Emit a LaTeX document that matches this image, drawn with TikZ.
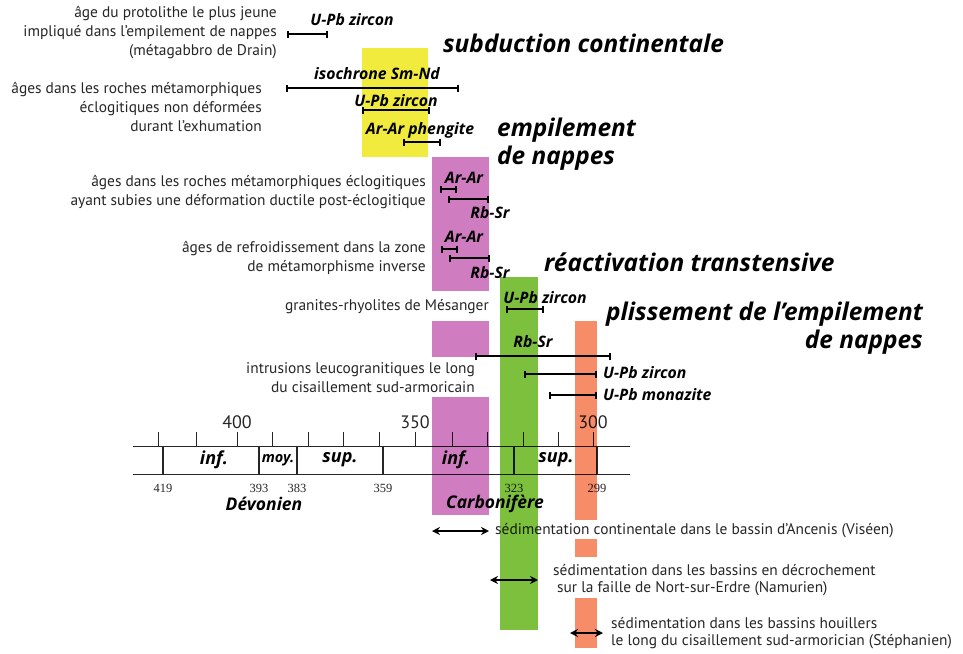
\documentclass[tikz,border=0pt]{standalone}
\usepackage{fontspec}
\setmainfont{PT Sans}
\newfontfamily\numfont{Liberation Serif}
\newfontfamily\osans{Open Sans}
\usetikzlibrary{arrows.meta}
\definecolor{cyel}{RGB}{240,235,60}
\definecolor{cpink}{RGB}{207,124,192}
\definecolor{cgreen}{RGB}{124,192,62}
\definecolor{corange}{RGB}{246,140,104}
\definecolor{ctext}{RGB}{38,38,38}
\newcommand{\errb}[4]{%
  \coordinate (#1a) at (#2,#4);
  \coordinate (#1b) at (#3,#4);
  \draw[errbar] (#1a) -- (#1b);}
\begin{document}
\begin{tikzpicture}[x=1pt,y=-1pt,
  annot/.style={font=\fontsize{15.4}{19}\selectfont, text=ctext, inner sep=0pt},
  titl/.style={font=\osans\fontsize{24.4}{28}\selectfont\bfseries\itshape, inner sep=0pt},
  meth/.style={font=\osans\fontsize{15.8}{17}\selectfont\bfseries\itshape, inner sep=0pt},
  period/.style={font=\osans\fontsize{18}{20}\selectfont\bfseries\itshape, inner sep=0pt},
  agenum/.style={font=\numfont\fontsize{12.5}{14}\selectfont, text=ctext, inner sep=0pt},
  scalenum/.style={font=\fontsize{18}{20}\selectfont, text=ctext, inner sep=0pt},
  errbar/.style={line width=2.4pt, {Bar[width=7pt]}-{Bar[width=7pt]}},
  sedarrow/.style={line width=2.2pt, {Stealth[length=8pt,width=8pt]}-{Stealth[length=8pt,width=8pt]}},
  axis/.style={line width=1pt, ctext},
  bound/.style={line width=1.8pt, ctext},
  tick/.style={line width=1pt, ctext}]
\useasboundingbox (0,0) rectangle (963,653);

% ---------- timeline ----------
\coordinate (tlA) at (133,446); \coordinate (tlB) at (630,446);
\coordinate (tlC) at (133,474); \coordinate (tlD) at (630,474);
\draw[axis] (tlA) -- (tlB);
\draw[axis] (tlC) -- (tlD);
\foreach \x in {158,196,237,272,308,343,379,415,452,487,523,558,593}
  \draw[tick] (\x,432) -- (\x,446);
\foreach \x/\n in {163/419,259/393,297/383,383/359,514/323,597/299}{
  \draw[bound] (\x,446) -- (\x,474);
  \node[agenum] (n\n) at (\x,488) {\n};}
\node[scalenum] (s400) at (237,422) {400};
\node[scalenum] (s350) at (415,422) {350};
\node[scalenum] (s300) at (593,422) {300};
\node[period] (p1) at (214,460) {inf.};
\node[period,font=\osans\fontsize{14.5}{16}\selectfont\bfseries\itshape] (p2) at (278,460) {moy.};
\node[period] (p3) at (340,460) {sup.};
\node[period] (p4) at (456,460) {inf.};
\node[period] (p5) at (556,460) {sup.};
\node[period,font=\osans\fontsize{17.5}{20}\selectfont\bfseries\itshape] (dev) at (264,504) {Dévonien};
\node[period,font=\osans\fontsize{17.5}{20}\selectfont\bfseries\itshape] (carb) at (495,504) {Carbonifère};

% ---------- left annotations ----------
\node[annot,align=right,anchor=east] (t1) at (277,32.5) {âge du protolithe le plus jeune\\impliqué dans l’empilement de nappes\\(métagabbro de Drain)};
\node[annot,align=right,anchor=east] (t2) at (262,107) {âges dans les roches métamorphiques\\éclogitiques non déformées\\durant l’exhumation};
\node[annot,align=right,anchor=east] (t3) at (426,192) {âges dans les roches métamorphiques éclogitiques\\ayant subies une déformation ductile post-éclogitique};
\node[annot,align=right,anchor=east] (t4) at (426,257.5) {âges de refroidissement dans la zone\\de métamorphisme inverse};
\node[annot,anchor=east] (t5) at (489,307) {granites-rhyolites de Mésanger};
\node[annot,align=right,anchor=east] (t6) at (475,377.5) {intrusions leucogranitiques le long\\du cisaillement sud-armoricain};

% ---------- titles ----------
\node[titl,anchor=west] (h1) at (443,43) {subduction continentale};
\node[titl,anchor=west,align=left] (h2) at (497,144.5) {empilement\\de nappes};
\node[titl,anchor=west] (h3) at (544,262) {réactivation transtensive};
\node[titl,anchor=east,align=right] (h4) at (923,328) {plissement de l’empilement\\de nappes};

% ---------- method labels ----------
\node[meth] (m1) at (352,20) {U-Pb zircon};
\node[meth] (m2) at (377,74) {isochrone Sm-Nd};
\node[meth] (m3) at (396,101) {U-Pb zircon};
\node[meth] (m4) at (420,130) {Ar-Ar phengite};
\node[meth] (m5) at (464,178) {Ar-Ar};
\node[meth] (m6) at (490,213) {Rb-Sr};
\node[meth] (m7) at (464,237) {Ar-Ar};
\node[meth] (m8) at (490,273) {Rb-Sr};
\node[meth] (m9) at (545,298) {U-Pb zircon};
\node[meth] (m10) at (533,342) {Rb-Sr};
\node[meth,anchor=west] (m11) at (603,373) {U-Pb zircon};
\node[meth,anchor=west] (m12) at (603,395) {U-Pb monazite};

% ---------- error bars ----------
\errb{e1}{287}{328}{34}
\errb{e2}{286}{459}{88}
\errb{e3}{362}{430}{110}
\errb{e4}{403}{441}{142}
\errb{e5}{440}{457}{189}
\errb{e6}{448}{489}{199}
\errb{e7}{441}{458}{249}
\errb{e8}{449}{490}{258}
\errb{e9}{506}{544}{309}
\errb{e10}{475}{611}{356}
\errb{e11}{524}{597}{374}
\errb{e12}{549}{597}{395}

% ---------- sedimentation ----------
\coordinate (a1a) at (432,531); \coordinate (a1b) at (489,531);
\draw[sedarrow] (a1a) -- (a1b);
\node[annot,anchor=west] (sd1) at (495,531) {sédimentation continentale dans le bassin d’Ancenis (Viséen)};
\coordinate (a2a) at (490,580); \coordinate (a2b) at (538,580);
\draw[sedarrow] (a2a) -- (a2b);
\node[annot,anchor=west] (sd2) at (553,570) {sédimentation dans les bassins en décrochement};
\node[annot,anchor=west] (sd3) at (557,589) {sur la faille de Nort-sur-Erdre (Namurien)};
\coordinate (a3a) at (570,633); \coordinate (a3b) at (603,633);
\draw[sedarrow] (a3a) -- (a3b);
\node[annot,anchor=west] (sd4) at (611,623) {sédimentation dans les bassins houillers};
\node[annot,anchor=west] (sd5) at (611,642) {le long du cisaillement sud-armorician (Stéphanien)};

% ---------- coloured bands (multiply) ----------
\begin{scope}[blend mode=multiply]
\fill[cyel] (362,48) rectangle (428,157);
\fill[cpink] (432,157) rectangle (489,291);
\fill[cpink] (432,321) rectangle (489,357);
\fill[cpink] (432,397) rectangle (489,515);
\fill[cgreen] (500,277) rectangle (538,630);
\fill[corange] (575,321) rectangle (597,520);
\fill[corange] (575,539) rectangle (597,557);
\fill[corange] (575,598) rectangle (597,648);
\end{scope}
\end{tikzpicture}
\end{document}
